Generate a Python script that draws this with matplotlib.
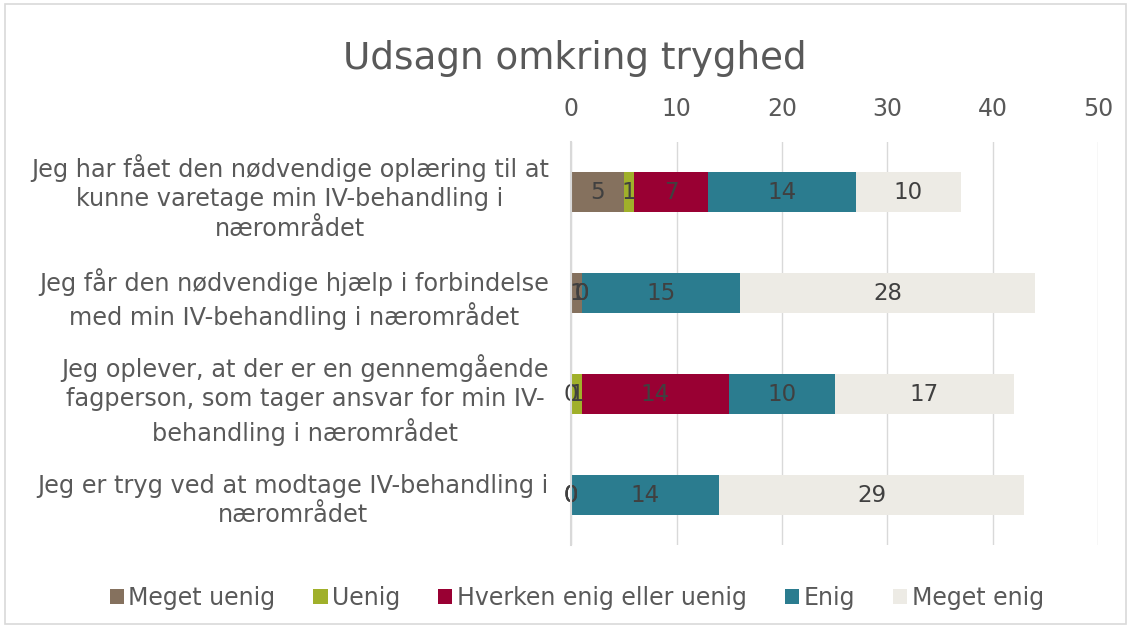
import numpy as np
import matplotlib
matplotlib.use("Agg")
import matplotlib.pyplot as plt
from matplotlib.patches import Rectangle

# data
categories = [
    "Jeg har fået den nødvendige oplæring til at\nkunne varetage min IV-behandling i\nnærområdet",
    "Jeg får den nødvendige hjælp i forbindelse\nmed min IV-behandling i nærområdet",
    "Jeg oplever, at der er en gennemgående\nfagperson, som tager ansvar for min IV-\nbehandling i nærområdet",
    "Jeg er tryg ved at modtage IV-behandling i\nnærområdet",
]
series_names = ["Meget uenig", "Uenig", "Hverken enig eller uenig", "Enig", "Meget enig"]
meget_uenig = [5, 1, 0, 0]
uenig = [1, 0, 1, 0]
hverken = [7, 0, 14, 0]
enig = [14, 15, 10, 14]
meget_enig = [10, 28, 17, 29]
x_ticks = [0, 10, 20, 30, 40, 50]

colors = ["#85715E", "#A0B02A", "#990033", "#2B7C8F", "#EDEBE5"]
text_col = "#595959"

plt.rcParams['font.family'] = ['DejaVu Sans']

fig = plt.figure(figsize=(11.31, 6.27), dpi=100)
ax = fig.add_axes([0.505, 0.130, 0.466, 0.644])

y = np.arange(len(categories))
left = np.zeros(len(categories))
for name, vals, c in zip(series_names,
                         [meget_uenig, uenig, hverken, enig, meget_enig], colors):
    vals = np.array(vals, dtype=float)
    ax.barh(y, vals, left=left, height=0.4, color=c, label=name, zorder=3)
    # Excel-style labels, zeros included
    for yi, (l, v) in enumerate(zip(left, vals)):
        ax.text(l + v / 2, yi, f"{int(v)}", ha="center", va="center",
                fontsize=16.5, color="#404040", zorder=4)
    left += vals

ax.set_ylim(3.5, -0.5)
ax.set_xlim(0, 50)
ax.set_xticks(x_ticks)
ax.xaxis.tick_top()
ax.tick_params(axis="x", length=0, labelsize=17, labelcolor=text_col, pad=15)
ax.set_yticks(y)
ax.set_yticklabels(categories, fontsize=17.3, color=text_col,
                   multialignment="center", linespacing=1.3)
ax.tick_params(axis="y", length=0, pad=16)
ax.grid(axis="x", color="#D9D9D9", linewidth=1, zorder=0)
for s in ["top", "right", "bottom"]:
    ax.spines[s].set_visible(False)
ax.spines["left"].set_color("#D9D9D9")
ax.spines["left"].set_linewidth(1.5)
ax.spines["left"].set_zorder(5)

fig.suptitle("Udsagn omkring tryghed", fontsize=26.8, color=text_col, x=0.508, y=0.937)

handles, labels = ax.get_legend_handles_labels()
fig.legend(handles, labels, loc="center", bbox_to_anchor=(0.51, 0.046), ncol=5,
           frameon=False, fontsize=17, labelcolor=text_col, handlelength=0.6,
           handleheight=0.6, handletextpad=0.2, columnspacing=1.6)

fig.patches.append(Rectangle((0.004, 0.004), 0.992, 0.99, transform=fig.transFigure,
                             fill=False, edgecolor="#D9D9D9", linewidth=1.2))

fig.savefig("out.png", dpi=100)
